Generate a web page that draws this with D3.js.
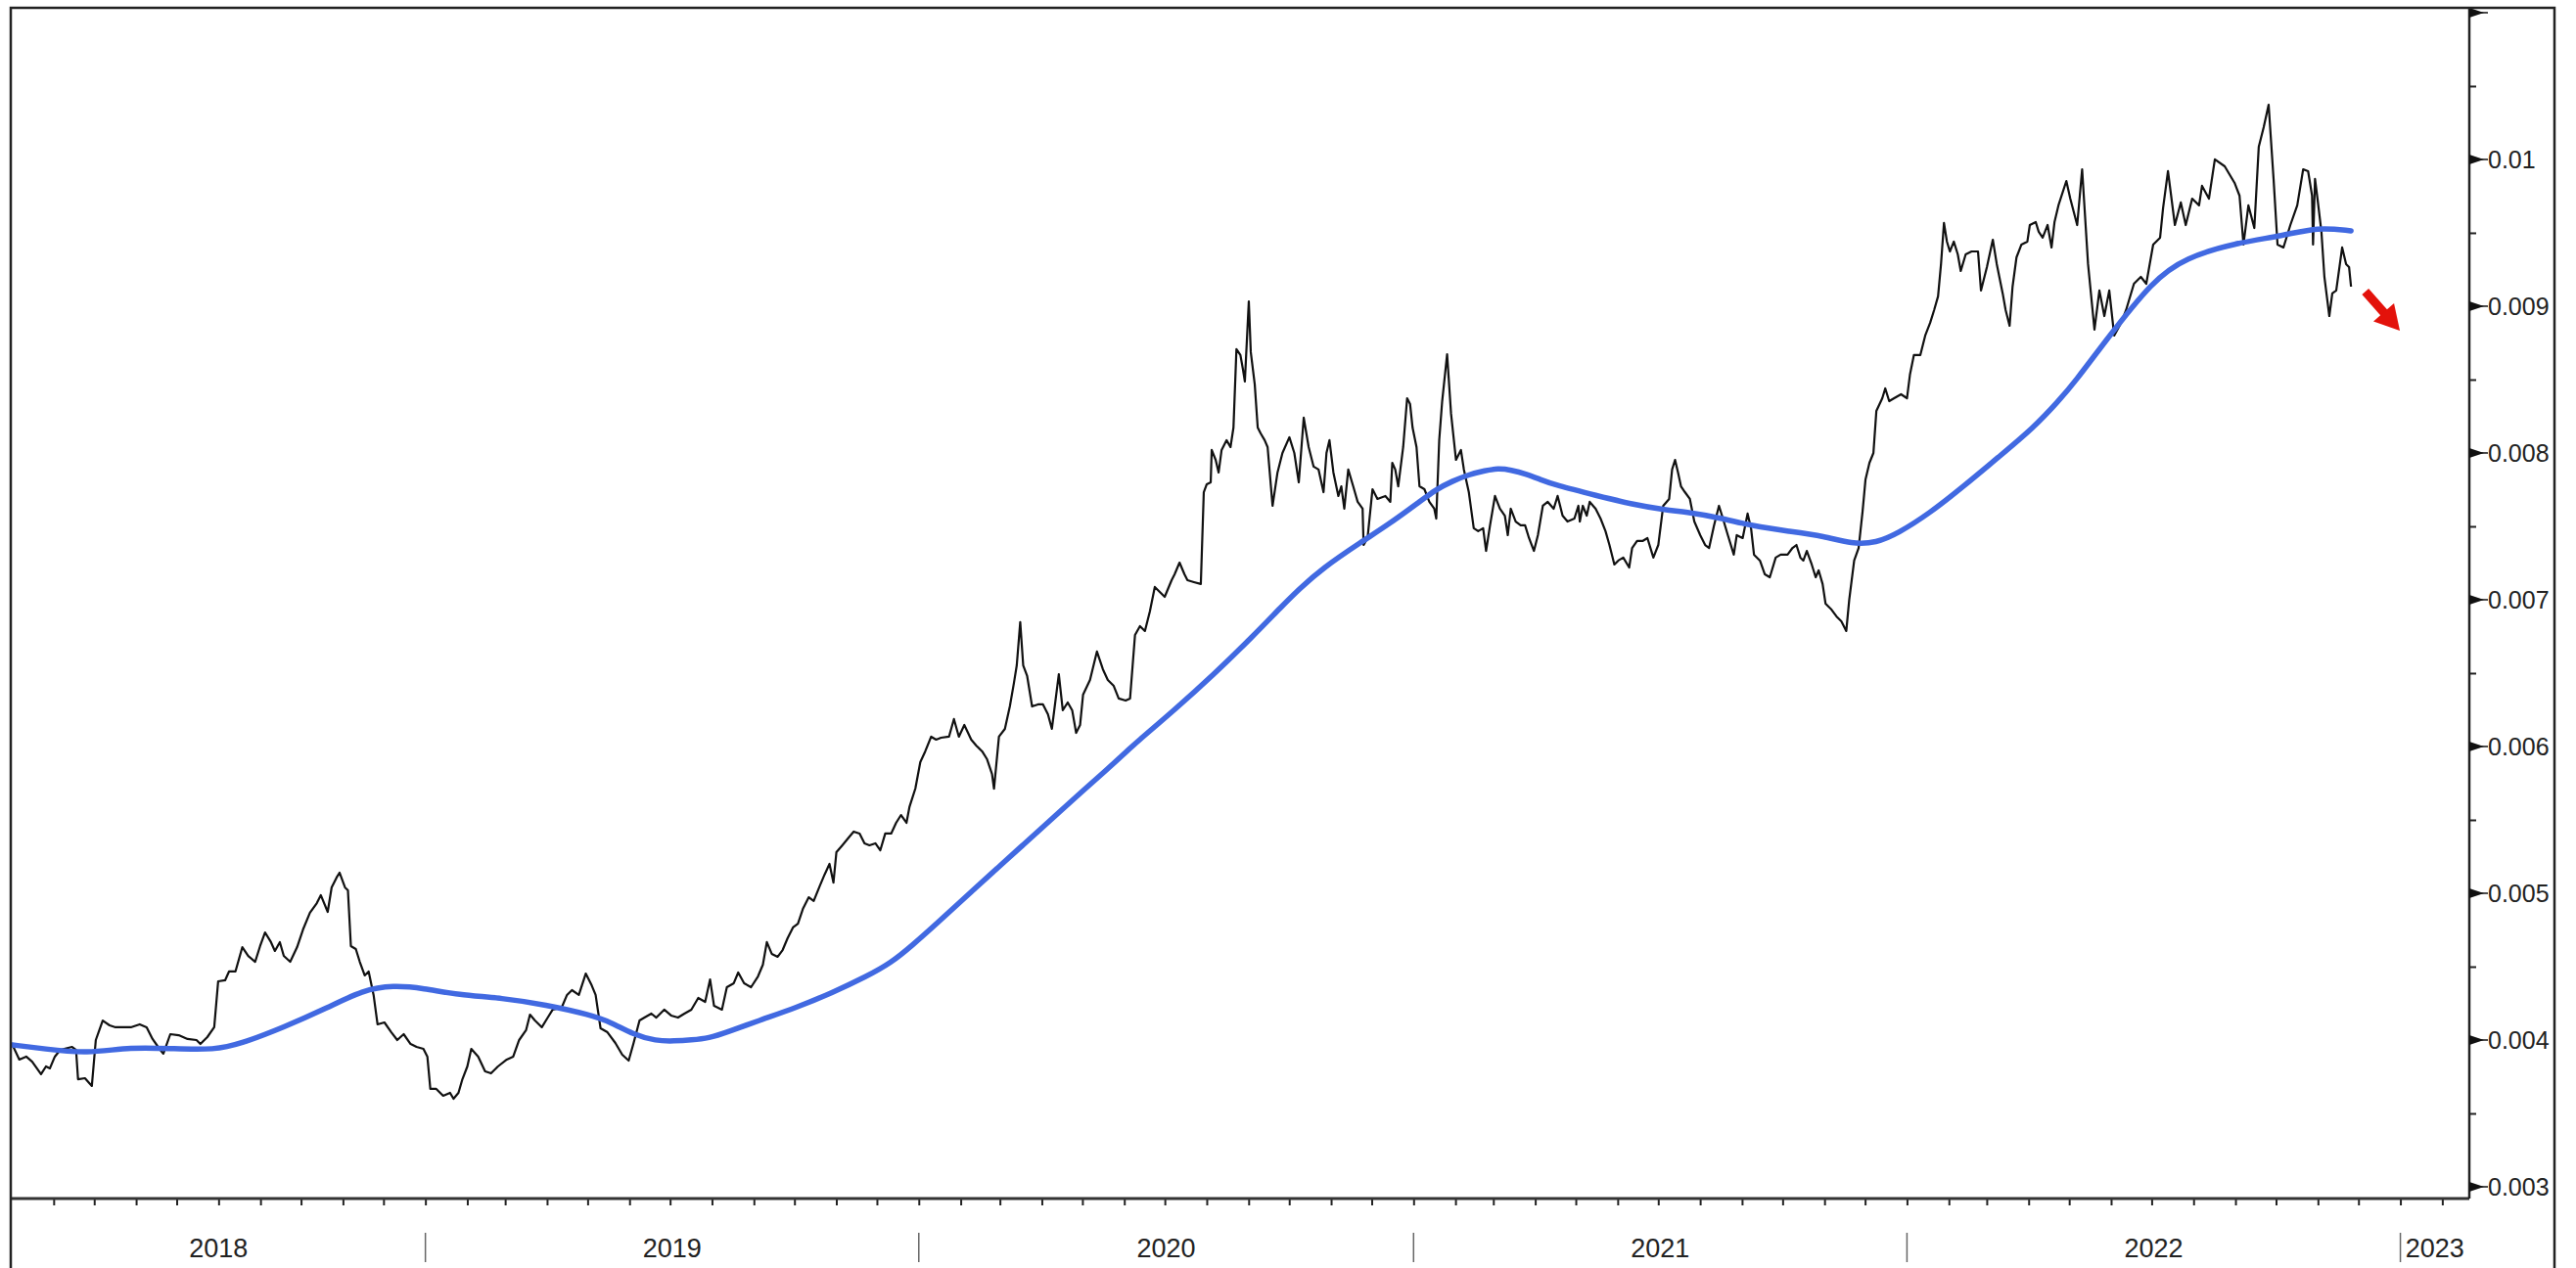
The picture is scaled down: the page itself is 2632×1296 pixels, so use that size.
<!DOCTYPE html>
<html>
<head>
<meta charset="utf-8">
<script src="https://cdn.jsdelivr.net/npm/d3@7/dist/d3.min.js"></script>
<style>
  html, body { margin: 0; padding: 0; background: #fff; }
  svg { display: block; }
</style>
</head>
<body>
<svg id="chart" width="2632" height="1296"></svg>
<script>
// ---------- DATA (time as decimal years) ----------
const priceT = [
2018.163,2018.177,2018.191,2018.203,2018.221,2018.231,2018.239,2018.249,2018.260,2018.284,2018.292,2018.296,2018.310,2018.324,2018.332,2018.346,2018.360,2018.372,2018.385,2018.403,
2018.421,2018.435,2018.447,2018.461,2018.469,2018.483,2018.500,2018.518,2018.536,2018.544,2018.558,2018.572,2018.580,2018.594,2018.602,2018.615,2018.629,2018.641,2018.655,2018.665,
2018.675,2018.687,2018.695,2018.705,2018.713,2018.726,2018.740,2018.752,2018.766,2018.780,2018.788,2018.802,2018.810,2018.820,2018.826,2018.837,2018.843,2018.849,2018.859,2018.867,
2018.877,2018.885,2018.895,2018.903,2018.917,2018.931,2018.943,2018.956,2018.970,2018.982,2018.996,2019.004,2019.010,2019.022,2019.036,2019.050,2019.057,2019.067,2019.075,2019.085,
2019.093,2019.107,2019.121,2019.133,2019.147,2019.165,2019.178,2019.190,2019.204,2019.212,2019.222,2019.236,2019.248,2019.258,2019.276,2019.287,2019.297,2019.311,2019.325,2019.337,
2019.345,2019.355,2019.369,2019.385,2019.399,2019.412,2019.422,2019.434,2019.444,2019.458,2019.468,2019.484,2019.498,2019.512,2019.525,2019.539,2019.553,2019.567,2019.577,2019.585,
2019.601,2019.611,2019.625,2019.634,2019.646,2019.660,2019.674,2019.684,2019.692,2019.702,2019.714,2019.724,2019.734,2019.745,2019.755,2019.765,2019.777,2019.787,2019.799,2019.809,
2019.819,2019.827,2019.833,2019.845,2019.858,2019.868,2019.880,2019.890,2019.900,2019.912,2019.922,2019.932,2019.944,2019.954,2019.964,2019.975,2019.981,2019.993,2020.003,2020.013,
2020.025,2020.035,2020.045,2020.061,2020.071,2020.081,2020.092,2020.106,2020.116,2020.128,2020.138,2020.148,2020.152,2020.162,2020.174,2020.184,2020.192,2020.198,2020.205,2020.211,
2020.219,2020.229,2020.241,2020.251,2020.261,2020.269,2020.283,2020.291,2020.301,2020.310,2020.318,2020.326,2020.332,2020.346,2020.360,2020.372,2020.382,2020.394,2020.404,2020.418,
2020.427,2020.437,2020.447,2020.457,2020.467,2020.477,2020.487,2020.497,2020.511,2020.517,2020.527,2020.537,2020.543,2020.556,2020.570,2020.576,2020.582,2020.590,2020.592,2020.600,
2020.606,2020.612,2020.622,2020.630,2020.636,2020.642,2020.650,2020.655,2020.659,2020.667,2020.671,2020.679,2020.685,2020.691,2020.699,2020.705,2020.715,2020.725,2020.735,2020.749,
2020.759,2020.768,2020.778,2020.788,2020.798,2020.808,2020.818,2020.824,2020.830,2020.838,2020.848,2020.854,2020.860,2020.868,2020.878,2020.887,2020.897,2020.899,2020.907,2020.917,
2020.927,2020.943,2020.953,2020.957,2020.963,2020.969,2020.979,2020.987,2020.993,2020.998,2021.006,2021.012,2021.022,2021.032,2021.042,2021.046,2021.052,2021.058,2021.068,2021.076,
2021.086,2021.096,2021.102,2021.112,2021.122,2021.131,2021.141,2021.147,2021.155,2021.165,2021.175,2021.185,2021.191,2021.197,2021.207,2021.217,2021.226,2021.234,2021.244,2021.252,
2021.262,2021.272,2021.284,2021.292,2021.302,2021.312,2021.326,2021.334,2021.337,2021.343,2021.351,2021.357,2021.369,2021.379,2021.389,2021.397,2021.407,2021.415,2021.425,2021.437,
2021.443,2021.453,2021.464,2021.474,2021.486,2021.496,2021.506,2021.518,2021.524,2021.530,2021.536,2021.542,2021.550,2021.560,2021.569,2021.581,2021.591,2021.599,2021.609,2021.619,
2021.627,2021.637,2021.649,2021.655,2021.667,2021.677,2021.684,2021.690,2021.702,2021.712,2021.722,2021.734,2021.744,2021.758,2021.768,2021.776,2021.784,2021.790,2021.797,2021.807,
2021.815,2021.821,2021.829,2021.835,2021.847,2021.857,2021.867,2021.877,2021.883,2021.893,2021.902,2021.910,2021.916,2021.924,2021.932,2021.938,2021.950,2021.956,2021.964,2021.974,
2021.988,2022.000,2022.006,2022.014,2022.027,2022.037,2022.047,2022.055,2022.063,2022.069,2022.075,2022.081,2022.087,2022.095,2022.103,2022.109,2022.119,2022.131,2022.144,2022.150,
2022.162,2022.174,2022.182,2022.194,2022.200,2022.208,2022.214,2022.222,2022.232,2022.244,2022.249,2022.261,2022.267,2022.275,2022.285,2022.293,2022.299,2022.307,2022.323,2022.331,
2022.345,2022.355,2022.367,2022.380,2022.390,2022.400,2022.410,2022.420,2022.434,2022.444,2022.460,2022.474,2022.485,2022.499,2022.513,2022.519,2022.529,2022.543,2022.555,2022.565,
2022.578,2022.592,2022.598,2022.612,2022.624,2022.644,2022.664,2022.674,2022.682,2022.692,2022.704,2022.713,2022.723,2022.733,2022.743,2022.751,2022.763,2022.777,2022.791,2022.803,
2022.813,2022.821,2022.823,2022.827,2022.832,2022.840,2022.846,2022.856,2022.862,2022.870,2022.882,2022.890,2022.896,2022.900
];
const priceV = [
0.003967,0.003867,0.003887,0.003853,0.003767,0.003820,0.003807,0.003887,0.003933,0.003953,0.003933,0.003733,0.003740,0.003687,0.004000,0.004133,0.004100,0.004087,0.004087,0.004087,
0.004107,0.004087,0.004007,0.003940,0.003907,0.004040,0.004033,0.004007,0.004000,0.003973,0.004020,0.004087,0.004400,0.004407,0.004467,0.004467,0.004633,0.004573,0.004533,0.004640,
0.004733,0.004667,0.004607,0.004667,0.004573,0.004533,0.004633,0.004753,0.004867,0.004933,0.004987,0.004873,0.005040,0.005107,0.005140,0.005040,0.005020,0.004640,0.004620,0.004533,
0.004440,0.004467,0.004307,0.004107,0.004120,0.004053,0.004000,0.004040,0.003973,0.003953,0.003940,0.003887,0.003667,0.003667,0.003620,0.003640,0.003600,0.003640,0.003733,0.003820,
0.003940,0.003887,0.003787,0.003773,0.003820,0.003867,0.003887,0.004000,0.004067,0.004173,0.004133,0.004087,0.004153,0.004207,0.004220,0.004307,0.004340,0.004307,0.004453,0.004373,
0.004307,0.004080,0.004053,0.003980,0.003900,0.003860,0.003980,0.004133,0.004153,0.004180,0.004153,0.004207,0.004167,0.004153,0.004180,0.004207,0.004287,0.004260,0.004413,0.004233,
0.004207,0.004360,0.004387,0.004460,0.004387,0.004360,0.004433,0.004513,0.004667,0.004587,0.004567,0.004613,0.004693,0.004767,0.004793,0.004893,0.004973,0.004947,0.005047,0.005127,
0.005200,0.005073,0.005280,0.005327,0.005380,0.005420,0.005407,0.005340,0.005327,0.005340,0.005293,0.005407,0.005407,0.005480,0.005533,0.005480,0.005587,0.005713,0.005893,0.005967,
0.006067,0.006047,0.006060,0.006067,0.006187,0.006067,0.006147,0.006047,0.006007,0.005967,0.005913,0.005813,0.005713,0.006067,0.006120,0.006273,0.006427,0.006553,0.006847,0.006553,
0.006480,0.006273,0.006287,0.006287,0.006220,0.006120,0.006493,0.006247,0.006300,0.006247,0.006093,0.006147,0.006353,0.006453,0.006647,0.006527,0.006453,0.006413,0.006327,0.006313,
0.006327,0.006760,0.006820,0.006787,0.006920,0.007087,0.007053,0.007020,0.007133,0.007173,0.007253,0.007173,0.007133,0.007120,0.007107,0.007733,0.007787,0.007800,0.008020,0.007953,
0.007867,0.008020,0.008087,0.008040,0.008173,0.008707,0.008667,0.008573,0.008487,0.009033,0.008687,0.008467,0.008173,0.008133,0.008087,0.008040,0.007640,0.007867,0.008000,0.008107,
0.008000,0.007800,0.008240,0.008040,0.007907,0.007887,0.007733,0.008000,0.008087,0.007867,0.007707,0.007773,0.007620,0.007887,0.007773,0.007667,0.007620,0.007373,0.007420,0.007753,
0.007687,0.007707,0.007667,0.007933,0.007887,0.007773,0.008040,0.008373,0.008333,0.008173,0.008040,0.007773,0.007753,0.007667,0.007620,0.007553,0.008087,0.008353,0.008673,0.008267,
0.007953,0.008020,0.007887,0.007733,0.007487,0.007467,0.007487,0.007333,0.007507,0.007707,0.007620,0.007573,0.007440,0.007620,0.007533,0.007507,0.007507,0.007420,0.007333,0.007440,
0.007640,0.007667,0.007620,0.007707,0.007573,0.007533,0.007553,0.007640,0.007533,0.007640,0.007573,0.007667,0.007620,0.007553,0.007467,0.007373,0.007240,0.007267,0.007287,0.007220,
0.007353,0.007400,0.007400,0.007420,0.007287,0.007373,0.007640,0.007687,0.007887,0.007953,0.007867,0.007773,0.007733,0.007687,0.007533,0.007440,0.007373,0.007353,0.007507,0.007640,
0.007553,0.007440,0.007307,0.007440,0.007420,0.007587,0.007487,0.007307,0.007267,0.007173,0.007153,0.007287,0.007307,0.007307,0.007353,0.007373,0.007287,0.007267,0.007333,0.007240,
0.007153,0.007200,0.007107,0.006973,0.006933,0.006887,0.006853,0.006787,0.007000,0.007267,0.007353,0.007600,0.007820,0.007933,0.008000,0.008287,0.008373,0.008440,0.008353,0.008373,
0.008400,0.008373,0.008533,0.008667,0.008667,0.008800,0.008887,0.008973,0.009067,0.009287,0.009567,0.009440,0.009373,0.009440,0.009353,0.009240,0.009353,0.009373,0.009373,0.009107,
0.009267,0.009453,0.009287,0.009087,0.008973,0.008867,0.009133,0.009333,0.009420,0.009440,0.009553,0.009573,0.009507,0.009467,0.009553,0.009400,0.009573,0.009687,0.009853,0.009733,
0.009553,0.009933,0.009287,0.008840,0.009107,0.008933,0.009107,0.008800,0.008887,0.008973,0.009153,0.009200,0.009153,0.009420,0.009467,0.009667,0.009920,0.009553,0.009707,0.009553,
0.009733,0.009687,0.009820,0.009733,0.010000,0.009953,0.009840,0.009753,0.009420,0.009687,0.009533,0.010087,0.010220,0.010373,0.009867,0.009420,0.009400,0.009553,0.009687,0.009933,
0.009920,0.009753,0.009420,0.009867,0.009733,0.009507,0.009200,0.008933,0.009087,0.009107,0.009400,0.009287,0.009267,0.009133
];
const avgT = [
2018.163,2018.227,2018.314,2018.403,2018.492,2018.572,2018.625,2018.713,2018.802,2018.873,2018.935,2018.996,2019.067,2019.155,2019.244,2019.333,2019.377,2019.420,2019.468,2019.504,
2019.539,2019.575,2019.611,2019.682,2019.751,2019.823,2019.894,2019.944,2019.985,2020.035,2020.106,2020.178,2020.211,2020.247,2020.283,2020.332,2020.376,2020.418,2020.437,2020.517,
2020.596,2020.675,2020.735,2020.768,2020.814,2020.897,2020.947,2021.012,2021.046,2021.078,2021.112,2021.145,2021.171,2021.197,2021.230,2021.256,2021.288,2021.371,2021.443,2021.514,
2021.550,2021.619,2021.690,2021.760,2021.833,2021.888,2021.938,2021.982,2022.045,2022.115,2022.186,2022.257,2022.307,2022.341,2022.400,2022.499,2022.565,2022.664,2022.763,2022.832,
2022.900
];
const avgV = [
0.003967,0.003940,0.003907,0.003953,0.003940,0.003933,0.003973,0.004087,0.004220,0.004340,0.004373,0.004353,0.004307,0.004287,0.004240,0.004173,0.004120,0.004040,0.003993,0.003993,
0.004000,0.004013,0.004053,0.004140,0.004220,0.004320,0.004433,0.004527,0.004640,0.004790,0.005010,0.005230,0.005330,0.005440,0.005550,0.005700,0.005830,0.005960,0.006020,0.006250,
0.006490,0.006750,0.006960,0.007070,0.007210,0.007400,0.007507,0.007667,0.007753,0.007807,0.007853,0.007880,0.007895,0.007885,0.007855,0.007820,0.007780,0.007710,0.007650,0.007610,
0.007600,0.007560,0.007500,0.007467,0.007433,0.007380,0.007387,0.007453,0.007587,0.007773,0.007973,0.008173,0.008353,0.008487,0.008753,0.009180,0.009330,0.009430,0.009480,0.009540,
0.009513
];
const yMajorTicks = [0.003, 0.004, 0.005, 0.006, 0.007, 0.008, 0.009, 0.010, 0.011];
const yLabelTicks = [0.003, 0.004, 0.005, 0.006, 0.007, 0.008, 0.009, 0.010];
const yMinorTicks = [0.0035, 0.0045, 0.0055, 0.0065, 0.0075, 0.0085, 0.0095, 0.0105];
const yearLabels = [2018, 2019, 2020, 2021, 2022, 2023];
const xStart = "2018-03-01", xEnd = "2023-02-21";
const yMin = 0.00292, yMax = 0.011033;
// annotation arrow (start and tip, in data units)
const arrowT = [2022.929, 2022.999];
const arrowV = [0.00910, 0.008833];

// ---------- HELPERS ----------
function fromDecimalYear(t) {
  const y = Math.floor(t);
  const a = new Date(y, 0, 1), b = new Date(y + 1, 0, 1);
  return new Date(+a + (t - y) * (b - a));
}
const parse = d3.timeParse("%Y-%m-%d");

// ---------- LAYOUT ----------
const plot = { left: 12, right: 2523, top: 8, bottom: 1225 };
const svg = d3.select("#chart");
svg.append("rect").attr("width", 2632).attr("height", 1296).attr("fill", "#fff");

const x = d3.scaleTime().domain([parse(xStart), parse(xEnd)]).range([plot.left, plot.right]);
const y = d3.scaleLinear().domain([yMin, yMax]).range([plot.bottom, plot.top]);

svg.append("clipPath").attr("id", "clip").append("rect")
  .attr("x", plot.left).attr("y", plot.top)
  .attr("width", plot.right - plot.left).attr("height", plot.bottom - plot.top);

const price = priceT.map((t, i) => ({ d: fromDecimalYear(t), v: priceV[i] }));
const avg = avgT.map((t, i) => ({ d: fromDecimalYear(t), v: avgV[i] }));

const line = d3.line().x(p => x(p.d)).y(p => y(p.v));
const smooth = d3.line().x(p => x(p.d)).y(p => y(p.v)).curve(d3.curveBasis);

const g = svg.append("g").attr("clip-path", "url(#clip)");
g.append("path").datum(price).attr("d", line)
  .attr("fill", "none").attr("stroke", "#111").attr("stroke-width", 2.2)
  .attr("stroke-linejoin", "round");
g.append("path").datum(avg).attr("d", smooth)
  .attr("fill", "none").attr("stroke", "#4169E1").attr("stroke-width", 5.5)
  .attr("stroke-linecap", "round").attr("stroke-linejoin", "round");

// ---------- RED ARROW ----------
{
  const x0 = x(fromDecimalYear(arrowT[0])), y0 = y(arrowV[0]);
  const x1 = x(fromDecimalYear(arrowT[1])), y1 = y(arrowV[1]);
  const dx = x1 - x0, dy = y1 - y0, len = Math.hypot(dx, dy);
  const ux = dx / len, uy = dy / len, nx = -uy, ny = ux;
  const headLen = 25, headW = 14;
  const bx = x1 - headLen * ux, by = y1 - headLen * uy;
  svg.append("line").attr("x1", x0).attr("y1", y0).attr("x2", bx + ux * 2).attr("y2", by + uy * 2)
    .attr("stroke", "#e3120b").attr("stroke-width", 9);
  svg.append("path")
    .attr("d", `M${x1},${y1}L${bx + headW * nx},${by + headW * ny}L${bx - headW * nx},${by - headW * ny}Z`)
    .attr("fill", "#e3120b");
}

// ---------- X AXIS ----------
const months = d3.timeMonth.range(d3.timeMonth.ceil(x.domain()[0]), x.domain()[1]).filter(d => x(d) > plot.left + 3);
const xAxis = d3.axisBottom(x).tickValues(months).tickSize(7).tickSizeOuter(0).tickFormat("");
const gx = svg.append("g").attr("transform", `translate(0,${plot.bottom})`).call(xAxis);
gx.select(".domain").remove();
gx.selectAll(".tick line").attr("stroke", "#222").attr("stroke-width", 2);
svg.append("line").attr("x1", plot.left).attr("x2", plot.right).attr("y1", plot.bottom).attr("y2", plot.bottom)
  .attr("stroke", "#333").attr("stroke-width", 3);

// year separators and labels
yearLabels.forEach(yr => {
  const s = new Date(yr, 0, 1), e = new Date(yr + 1, 0, 1);
  const xs = Math.max(x(s), plot.left), xe = Math.min(x(e), plot.right);
  if (x(s) > plot.left) {
    svg.append("line").attr("x1", x(s)).attr("x2", x(s)).attr("y1", 1260).attr("y2", 1290)
      .attr("stroke", "#666").attr("stroke-width", 1.5);
  }
  svg.append("text").attr("x", (xs + xe) / 2).attr("y", 1285)
    .attr("text-anchor", "middle")
    .attr("font-family", "'Liberation Sans Narrow', 'Liberation Sans', Arial, sans-serif")
    .attr("font-size", 27).attr("fill", "#222").text(yr);
});

// ---------- Y AXIS (right) ----------
svg.append("line").attr("x1", plot.right).attr("x2", plot.right).attr("y1", plot.top).attr("y2", plot.bottom)
  .attr("stroke", "#222").attr("stroke-width", 2.5);
const yMinorAxis = d3.axisRight(y).tickValues(yMinorTicks).tickSize(7).tickFormat("");
const gyMinor = svg.append("g").attr("transform", `translate(${plot.right},0)`).call(yMinorAxis);
gyMinor.select(".domain").remove();
gyMinor.selectAll(".tick line").attr("stroke", "#222").attr("stroke-width", 2);

yMajorTicks.forEach(v => {
  const yy = y(v);
  svg.append("path").attr("d", `M${plot.right},${yy - 5}L${plot.right + 15},${yy}L${plot.right},${yy + 5}Z`)
    .attr("fill", "#111");
  svg.append("line").attr("x1", plot.right).attr("x2", plot.right + 19).attr("y1", yy).attr("y2", yy)
    .attr("stroke", "#111").attr("stroke-width", 1.5);
});
const fmt = d3.format(".3~f");
yLabelTicks.forEach(v => {
  svg.append("text").attr("x", plot.right + 19).attr("y", y(v)).attr("dy", "0.36em")
    .attr("font-family", "'Liberation Sans', Arial, sans-serif").attr("font-size", 25)
    .attr("fill", "#222").text(fmt(v));
});

// ---------- OUTER FRAME ----------
svg.append("rect").attr("x", 11).attr("y", 8).attr("width", 2599).attr("height", 1300)
  .attr("fill", "none").attr("stroke", "#222").attr("stroke-width", 2.5);
</script>
</body>
</html>
